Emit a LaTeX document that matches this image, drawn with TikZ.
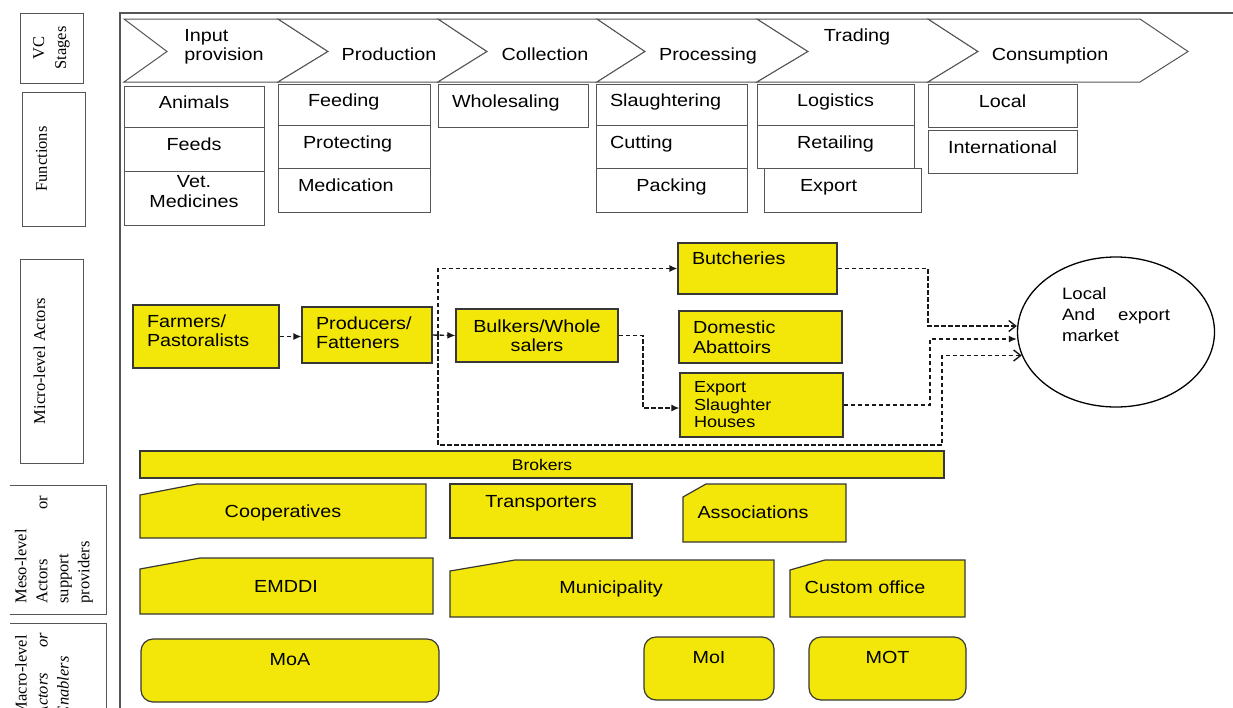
\documentclass[tikz,border=0pt]{standalone}
\usepackage{fontspec}
\setmainfont{Liberation Sans}[FakeStretch=1.13]
\newfontfamily\lblserif{Liberation Serif}
\usetikzlibrary{shapes.geometric, arrows.meta}
\definecolor{actyellow}{RGB}{242,231,8}
\definecolor{linegray}{RGB}{55,55,55}
\definecolor{boxgray}{RGB}{85,85,85}

\begin{document}
\begin{tikzpicture}[x=1pt, y=-1pt,
    every node/.style={font=\fontsize{17.5}{19.5}\selectfont, inner sep=0pt},
    stage/.style={draw=boxgray, fill=white, line width=1pt},
    fun/.style={draw=boxgray, fill=white, line width=1pt, text depth=9pt},
    act/.style={draw=linegray, fill=actyellow, line width=1.2pt, align=left, inner xsep=14pt},
    snip/.style={draw=linegray, fill=actyellow, line width=1.2pt},
    macro/.style={draw=linegray, fill=actyellow, line width=1.2pt, rounded corners=12pt, text depth=23pt},
    lbl/.style={draw=boxgray, line width=1pt, rotate=90, font=\lblserif\fontsize{16.5}{22}\selectfont},
    lbltext/.style={rotate=90, align=left, font=\lblserif\fontsize{16.5}{21}\selectfont},
    link/.style={draw=black!90, line width=1.4pt, dash pattern=on 4.5pt off 2.5pt},
    headfill/.style={-{Latex[length=8pt, width=7pt]}},
    headopen/.style={-{Straight Barb[length=7pt, width=11pt]}}]

    \useasboundingbox (0,0) rectangle (1233,707);
    \clip (0,0) rectangle (1233,707);
    \fill[white] (0,0) rectangle (1233,707);

    \node[lbl, minimum width=70pt, minimum height=63pt, align=center] (1) at (51.5,48) {VC\\Stages};
    \node[lbl, minimum width=134pt, minimum height=63pt, text depth=24pt] (2) at (53.5,159) {Functions};
    \node[lbl, minimum width=204pt, minimum height=63pt, text depth=24pt] (3) at (51.5,361) {Micro-level Actors};
    \draw[draw=boxgray, line width=1pt] (10,485) -- (106,485) -- (106,614) -- (10,614);
    \node[lbltext, text width=108pt] (4) at (54,549.5) {Meso-level\\Actors\hfill or\\support\\providers};
    \draw[draw=boxgray, line width=1pt] (10,623) -- (106,623) -- (106,760);
    \node[lbltext, text width=83pt] (5) at (42,674.5) {Macro-level\\\textit{Actors\hfill or}\\\textit{Enablers}};

    \draw[boxgray, line width=1.6pt] (1240,13) -- (120,13) -- (120,715);

    \draw[stage] (124,19) -- (278,19) -- (328,51.5) -- (278,82) -- (124,82) -- (167,51.5) -- cycle;
    \draw[stage] (278,19) -- (438,19) -- (487,51.5) -- (438,82) -- (278,82) -- (328,51.5) -- cycle;
    \draw[stage] (438,19) -- (597,19) -- (645,51.5) -- (597,82) -- (438,82) -- (487,51.5) -- cycle;
    \draw[stage] (597,19) -- (757,19) -- (808,51.5) -- (757,82) -- (597,82) -- (645,51.5) -- cycle;
    \draw[stage] (757,19) -- (928,19) -- (978,51.5) -- (928,82) -- (757,82) -- (808,51.5) -- cycle;
    \draw[stage] (928,19) -- (1140,19) -- (1188,51.5) -- (1140,82) -- (928,82) -- (978,51.5) -- cycle;
    \node[align=left] (6) at (224,47) {Input\\provision};
    \node (7) at (389,54) {Production};
    \node (8) at (545,54) {Collection};
    \node (9) at (708,56) {Processing};
    \node (10) at (857,37) {Trading};
    \node (11) at (1050,56) {Consumption};

    \node[fun, minimum width=140pt, minimum height=41pt] (12) at (194,106.5) {Animals};
    \node[fun, minimum width=140pt, minimum height=44pt] (13) at (194,149) {Feeds};
    \node[fun, minimum width=140pt, minimum height=54pt, align=center, text depth=13pt] (14) at (194,198) {Vet.\\Medicines};
    \node[fun, text width=92pt, inner xsep=30pt, align=left, minimum height=41pt] (15) at (354,104.5) {Feeding};
    \node[fun, text width=102pt, inner xsep=25pt, align=left, minimum height=43pt] (16) at (354,146.5) {Protecting};
    \node[fun, text width=112pt, inner xsep=20pt, align=left, minimum height=44pt] (17) at (354,190) {Medication};
    \node[fun, text width=122pt, inner xsep=14pt, align=left, minimum height=43pt] (18) at (513,105.5) {Wholesaling};
    \node[fun, text width=123pt, inner xsep=14pt, align=left, minimum height=41pt] (19) at (671.5,104.5) {Slaughtering};
    \node[fun, text width=123pt, inner xsep=14pt, align=left, minimum height=43pt] (20) at (671.5,146.5) {Cutting};
    \node[fun, minimum width=151pt, minimum height=44pt] (21) at (671.5,190) {Packing};
    \node[fun, minimum width=157pt, minimum height=41pt] (22) at (835.5,104.5) {Logistics};
    \node[fun, minimum width=157pt, minimum height=43pt] (23) at (835.5,146.5) {Retailing};
    \node[fun, text width=85pt, inner xsep=36pt, align=left, minimum height=44pt] (24) at (842.5,190) {Export};
    \node[fun, minimum width=149pt, minimum height=43pt] (25) at (1002.5,105.5) {Local};
    \node[fun, minimum width=149pt, minimum height=43pt] (26) at (1002.5,151.5) {International};

    \node[act, text width=118pt, minimum height=63pt, text depth=31pt] (27) at (206,336.5) {Farmers/\\Pastoralists};
    \node[act, text width=102pt, minimum height=56pt, text depth=24pt] (28) at (367,335) {Producers/\\Fatteners};
    \node[act, text width=134pt, minimum height=53pt, align=center] (29) at (537,335.5) {Bulkers/Whole\\salers};
    \node[act, text width=131pt, minimum height=51pt, text depth=21pt] (30) at (757.5,268.5) {Butcheries};
    \node[act, text width=135pt, minimum height=52pt] (31) at (760.5,337) {Domestic\\Abattoirs};
    \node[act, text width=135pt, minimum height=64pt, font=\fontsize{16}{17.5}\selectfont] (32) at (761.5,405) {Export\\Slaughter\\Houses};
    \node[ellipse, draw=black, line width=1.3pt, minimum width=197pt, minimum height=150pt, text width=108pt, align=left, text depth=76pt, font=\fontsize{16.5}{21}\selectfont] (33) at (1116,332) {Local\\And\hfill export\\market};

    \node[act, align=center, minimum width=804pt, minimum height=27pt, font=\fontsize{15.5}{17}\selectfont] (34) at (542,464.5) {Brokers};

    \draw[snip] (140,495) -- (197,484) -- (426,484) -- (426,538) -- (140,538) -- cycle;
    \node (35) at (283,513) {Cooperatives};
    \node[act, align=center, minimum width=182pt, minimum height=54pt, text depth=20pt] (36) at (541,511) {Transporters};
    \draw[snip] (683,497) -- (706,484) -- (846,484) -- (846,542) -- (683,542) -- cycle;
    \node (37) at (753,512) {Associations};
    \draw[snip] (140,569) -- (200,558) -- (433,558) -- (433,614) -- (140,614) -- cycle;
    \node (38) at (286,586) {EMDDI};
    \draw[snip] (450,571) -- (515,560) -- (774,560) -- (774,617) -- (450,617) -- cycle;
    \node (39) at (611,589) {Municipality};
    \draw[snip] (790,570) -- (825,560) -- (965,560) -- (965,617) -- (790,617) -- cycle;
    \node (40) at (865,587) {Custom office};

    \node[macro, minimum width=298pt, minimum height=63pt] (41) at (290,670.5) {MoA};
    \node[macro, minimum width=130pt, minimum height=63pt] (42) at (709,668.5) {MoI};
    \node[macro, minimum width=157pt, minimum height=63pt] (43) at (887.5,668.5) {MOT};

    \coordinate (j) at (438,335);
    \coordinate (c1) at (942,445);
    \coordinate (c2) at (928,326);
    \coordinate (c3) at (930,339);
    \coordinate (c4) at (643,408);

    \draw[link, headfill] (27.east) -- (27.east -| 28.west);
    \draw[link, headfill] (28.east) -- (29.west);
    \draw[link, headfill] (j) |- (30.west);
    \draw[link, headopen] (j) |- (c1) |- (33.194);
    \draw[link, headopen] (30.east) -| (c2) -- (c2 -| 33.west);
    \draw[link, headfill] (32.east) -| (c3) -- (c3 -| 33.west);
    \draw[link, headfill] (29.east) -| (c4) -- (c4 -| 32.west);

\end{tikzpicture}
\end{document}
